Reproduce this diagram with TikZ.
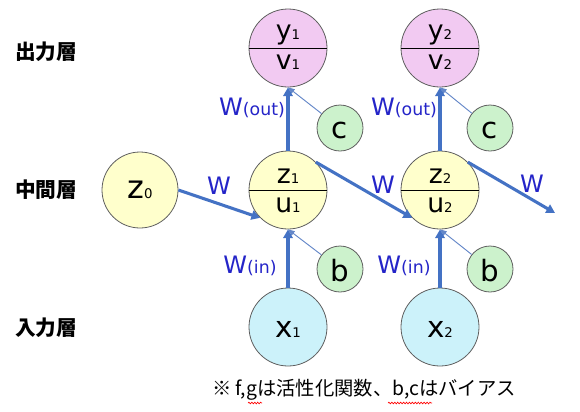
\documentclass[tikz,border=0pt]{standalone}
\usepackage{fontspec}
\setmainfont{DejaVu Sans}
\newfontfamily\jpfont{Noto Sans CJK JP}
\usetikzlibrary{arrows.meta,decorations.pathmorphing}
\definecolor{pinkf}{RGB}{242,202,242}
\definecolor{yellowf}{RGB}{255,255,204}
\definecolor{greenf}{RGB}{204,242,204}
\definecolor{cyanf}{RGB}{204,242,250}
\definecolor{edgegray}{RGB}{95,95,95}
\definecolor{arrowblue}{RGB}{68,114,196}
\definecolor{thinblue}{RGB}{100,135,200}
\definecolor{wblue}{RGB}{36,36,200}
\newcommand\nsub[3]{{\fontsize{#1}{#1}\selectfont #2}{\fontsize{10}{10}\selectfont #3}}
\newcommand\wlab[1]{{\fontsize{18}{18}\selectfont W}{\fontsize{13}{13}\selectfont (#1)}}
\begin{document}
\begin{tikzpicture}[x=0.75pt,y=-0.75pt,
  neuron/.style={circle, draw=edgegray, line width=0.6pt, minimum size=58.5pt, inner sep=0pt},
  bias/.style={circle, draw=edgegray, line width=0.6pt, fill=greenf, minimum size=34.5pt, inner sep=0pt},
  divider/.style={draw=black, line width=0.7pt},
  mainarrow/.style={draw=arrowblue, line width=2.3pt, -{Triangle[length=6.5pt,width=7pt]}},
  thinarrow/.style={draw=thinblue, line width=0.7pt, -{Triangle[length=5pt,width=4pt]}},
  wtext/.style={text=wblue, inner sep=0pt},
  layer/.style={font=\jpfont\bfseries\fontsize{15.5}{15.5}\selectfont, inner sep=0pt},
  squiggle/.style={draw=red, line width=0.5pt, decorate, decoration={snake, segment length=2.2pt, amplitude=0.6pt}}
]
\useasboundingbox (0,0) rectangle (580,411);

% layer labels
\node[layer] (lout) at (46,52) {出力層};
\node[layer] (lmid) at (46,190) {中間層};
\node[layer] (lin) at (46,328) {入力層};

% output neurons
\node[neuron, fill=pinkf] (y1) at (288,48) {};
\node[neuron, fill=pinkf] (y2) at (440,48) {};
% hidden neurons
\node[neuron, fill=yellowf, minimum size=57pt] (z0) at (140,190) {};
\node[neuron, fill=yellowf] (z1) at (288,190) {};
\node[neuron, fill=yellowf] (z2) at (440,190) {};
% input neurons
\node[neuron, fill=cyanf] (x1) at (288,327) {};
\node[neuron, fill=cyanf] (x2) at (440,327) {};
% biases
\node[bias] (c1) at (340,128) {};
\node[bias] (c2) at (490,128) {};
\node[bias] (b1) at (340,269) {};
\node[bias] (b2) at (490,269) {};

% dividers
\foreach \n in {y1,y2,z1,z2} \draw[divider] (\n.west) -- (\n.east);

% texts inside neurons
\node[anchor=base, inner sep=0pt] (ty1) at (288,39) {\nsub{20}{y}{1}};
\node[anchor=base, inner sep=0pt] (tv1) at (288,69) {\nsub{20}{v}{1}};
\node[anchor=base, inner sep=0pt] (ty2) at (440,39) {\nsub{20}{y}{2}};
\node[anchor=base, inner sep=0pt] (tv2) at (440,69) {\nsub{20}{v}{2}};
\node[anchor=base, inner sep=0pt] (tz1) at (288,183) {\nsub{20}{z}{1}};
\node[anchor=base, inner sep=0pt] (tu1) at (288,212) {\nsub{20}{u}{1}};
\node[anchor=base, inner sep=0pt] (tz2) at (440,183) {\nsub{20}{z}{2}};
\node[anchor=base, inner sep=0pt] (tu2) at (440,212) {\nsub{20}{u}{2}};
\node[anchor=base, inner sep=0pt] (tz0) at (140,198) {\nsub{24}{z}{0}};
\node[anchor=base, inner sep=0pt] (tx1) at (288,337) {\nsub{22}{x}{1}};
\node[anchor=base, inner sep=0pt] (tx2) at (440,337) {\nsub{22}{x}{2}};
\node[anchor=base, inner sep=0pt] (tc1) at (340,138) {\fontsize{22}{22}\selectfont c};
\node[anchor=base, inner sep=0pt] (tc2) at (490,138) {\fontsize{22}{22}\selectfont c};
\node[anchor=base, inner sep=0pt] (tb1) at (340,281) {\fontsize{22}{22}\selectfont b};
\node[anchor=base, inner sep=0pt] (tb2) at (490,281) {\fontsize{22}{22}\selectfont b};

% connectors
\draw[thinarrow] (b1) -- (z1.south);
\draw[thinarrow] (b2) -- (z2.south);
\draw[thinarrow] (c1) -- (y1.south);
\draw[thinarrow] (c2) -- (y2.south);
\draw[mainarrow] (x1) -- (z1);
\draw[mainarrow] (x2) -- (z2);
\draw[mainarrow] (z1) -- (y1);
\draw[mainarrow] (z2) -- (y2);
\coordinate (zend) at (555,213);
\draw[mainarrow] (z0.east) -- (z1.225);
\draw[mainarrow] (z1.45) -- (z2.225);
\draw[mainarrow] (z2.45) -- (zend);

% weight labels
\node[wtext] (w1) at (219,186) {\fontsize{18}{18}\selectfont W};
\node[wtext] (w2) at (383,185) {\fontsize{18}{18}\selectfont W};
\node[wtext] (w3) at (532,184) {\fontsize{18}{18}\selectfont W};
\node[wtext] (wo1) at (252,108) {\wlab{out}};
\node[wtext] (wo2) at (404,108) {\wlab{out}};
\node[wtext] (wi1) at (250,266) {\wlab{in}};
\node[wtext] (wi2) at (404,266) {\wlab{in}};

% note
\node[inner sep=0pt, font=\jpfont\fontsize{14.5}{14.5}\selectfont] (note) at (364,390) {※ f,gは活性化関数、b,cはバイアス};
\coordinate (sq1a) at (248,403); \coordinate (sq1b) at (262,403);
\coordinate (sq2a) at (388,403); \coordinate (sq2b) at (432,403);
\draw[squiggle] (sq1a) -- (sq1b);
\draw[squiggle] (sq2a) -- (sq2b);
\end{tikzpicture}
\end{document}
